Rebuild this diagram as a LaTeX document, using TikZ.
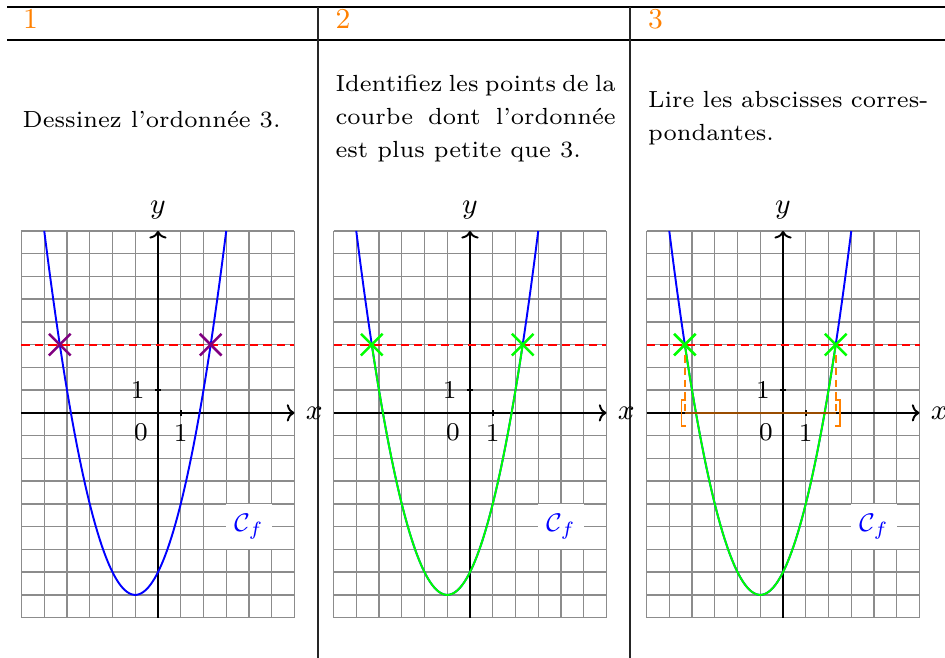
\documentclass[tikz,border=0pt]{standalone}
\usepackage{amsmath, amssymb}
\usepackage{tikz}
\usetikzlibrary{arrows.meta, shapes.misc}

\begin{document}
\begin{tikzpicture}[x=0.25cm, y=0.25cm,
	every node/.style={font=\fontsize{8}{9.6}\selectfont},
	filet/.style={line width=0.6pt},
	separe/.style={line width=0.5pt, black!85},
	numero/.style={anchor=base west, inner sep=0pt, text=orange, font=\fontsize{9}{10}\selectfont},
	consigne/.style={anchor=west, inner sep=0pt, text width=3.08cm, align=justify, font=\fontsize{7.3}{10.3}\selectfont},
	grille/.style={black!45, line width=0.4pt, step=0.25cm},
	axe/.style={-{Computer Modern Rightarrow[length=2.4pt, width=5.4pt]}, line width=0.6pt},
	etiquette/.style={font=\fontsize{9}{10}\selectfont},
	courbe/.style={blue, line width=0.6pt},
	partie/.style={green, line width=0.6pt},
	seuil/.style={red, line width=0.6pt, dash pattern=on 2.6pt off 1.6pt},
	croix/.style={cross out, draw, line width=0.8pt, minimum size=0.21cm, inner sep=0pt},
	nom/.style={fill=white, text=blue, minimum size=0.5cm, inner sep=0pt, font=\fontsize{8.5}{10}\selectfont},
	pointille/.style={orange, line width=0.6pt, dash pattern=on 2.2pt off 1.6pt},
	crochet/.style={orange, line width=0.5pt},
	intervalle/.style={orange!60!black, line width=0.6pt}
	]
	
	% Cadre du tableau
	\useasboundingbox (0,0) rectangle (41.54,-28.92);
	\draw[filet] (0.31,-0.31) -- (41.54,-0.31);
	\draw[filet] (0.31,-1.76) -- (41.54,-1.76);
	\draw[separe] (13.98,-0.31) -- (13.98,-28.92);
	\draw[separe] (27.69,-0.31) -- (27.69,-28.92);
	
	% Numéros des étapes
	\node[numero] (n1) at (0.99,-1.27) {1};
	\node[numero] (n2) at (14.72,-1.27) {2};
	\node[numero] (n3) at (28.46,-1.27) {3};
	
	% Consignes
	\node[consigne] (c1) at (0.97,-5.25) {Dessinez l'ordonnée 3.};
	\node[consigne] (c2) at (14.72,-5.2) {Identifiez les points de la\linebreak courbe dont l'ordonnée\linebreak est plus petite que 3.};
	\node[consigne] (c3) at (28.46,-5.2) {Lire les abscisses corres-\linebreak pondantes.};
	
	% Repère 1 : la droite y = 3
	\begin{scope}[shift={(6.945,-18.15)}]
		\draw[grille] (-6,-9) grid (6,8);
		\draw[axe] (-6,0) -- (6,0);
		\draw[axe] (0,-9) -- (0,8);
		\draw[line width=0.5pt] (1,-0.12) -- (1,0.12) (-0.12,1) -- (0.12,1);
		\node[right, etiquette] (x1) at (6,0) {$x$};
		\node[above, etiquette] (y1) at (0,8) {$y$};
		\node[left, inner sep=4pt] (u1) at (0,1) {1};
		\node[below left, inner sep=3pt] (o1) at (0,0) {0};
		\node[below, inner sep=3.5pt] (v1) at (1,0) {1};
		\draw[courbe] plot[domain=-5:3, samples=80] (\x, {(\x+1)^2-8});
		\draw[seuil] (-6,3) -- (6,3);
		\node[croix, draw=violet] (a1) at (-4.3166,3) {};
		\node[croix, draw=violet] (b1) at (2.3166,3) {};
		\node[nom] (cf1) at (4,-5) {$\mathcal{C}_f$};
	\end{scope}
	
	% Repère 2 : les points sous la droite
	\begin{scope}[shift={(20.66,-18.15)}]
		\draw[grille] (-6,-9) grid (6,8);
		\draw[axe] (-6,0) -- (6,0);
		\draw[axe] (0,-9) -- (0,8);
		\draw[line width=0.5pt] (1,-0.12) -- (1,0.12) (-0.12,1) -- (0.12,1);
		\node[right, etiquette] (x2) at (6,0) {$x$};
		\node[above, etiquette] (y2) at (0,8) {$y$};
		\node[left, inner sep=4pt] (u2) at (0,1) {1};
		\node[below left, inner sep=3pt] (o2) at (0,0) {0};
		\node[below, inner sep=3.5pt] (v2) at (1,0) {1};
		\draw[courbe] plot[domain=-5:3, samples=80] (\x, {(\x+1)^2-8});
		\draw[partie] plot[domain=-4.3166:2.3166, samples=80] (\x, {(\x+1)^2-8});
		\draw[seuil] (-6,3) -- (6,3);
		\node[croix, draw=green] (a2) at (-4.3166,3) {};
		\node[croix, draw=green] (b2) at (2.3166,3) {};
		\node[nom] (cf2) at (4,-5) {$\mathcal{C}_f$};
	\end{scope}
	
	% Repère 3 : lecture des abscisses
	\begin{scope}[shift={(34.42,-18.15)}]
		\draw[grille] (-6,-9) grid (6,8);
		\draw[axe] (-6,0) -- (6,0);
		\draw[axe] (0,-9) -- (0,8);
		\draw[line width=0.5pt] (1,-0.12) -- (1,0.12) (-0.12,1) -- (0.12,1);
		\node[right, etiquette] (x3) at (6,0) {$x$};
		\node[above, etiquette] (y3) at (0,8) {$y$};
		\node[left, inner sep=4pt] (u3) at (0,1) {1};
		\node[below left, inner sep=3pt] (o3) at (0,0) {0};
		\node[below, inner sep=3.5pt] (v3) at (1,0) {1};
		\draw[courbe] plot[domain=-5:3, samples=80] (\x, {(\x+1)^2-8});
		\draw[partie] plot[domain=-4.3166:2.3166, samples=80] (\x, {(\x+1)^2-8});
		\draw[seuil] (-6,3) -- (6,3);
		\coordinate (pa3) at (-4.3166,0);
		\coordinate (pb3) at (2.3166,0);
		\node[croix, draw=green] (a3) at (-4.3166,3) {};
		\node[croix, draw=green] (b3) at (2.3166,3) {};
		\draw[pointille] (a3) -- (pa3);
		\draw[pointille] (b3) -- (pb3);
		\draw[intervalle] (pa3) -- (pb3);
		\draw[crochet] (-4.25,0.57) -- (-4.47,0.57) -- (-4.47,-0.57) -- (-4.25,-0.57);
		\draw[crochet] (2.28,0.57) -- (2.5,0.57) -- (2.5,-0.57) -- (2.28,-0.57);
		\node[nom] (cf3) at (4,-5) {$\mathcal{C}_f$};
	\end{scope}
	
\end{tikzpicture}
\end{document}
